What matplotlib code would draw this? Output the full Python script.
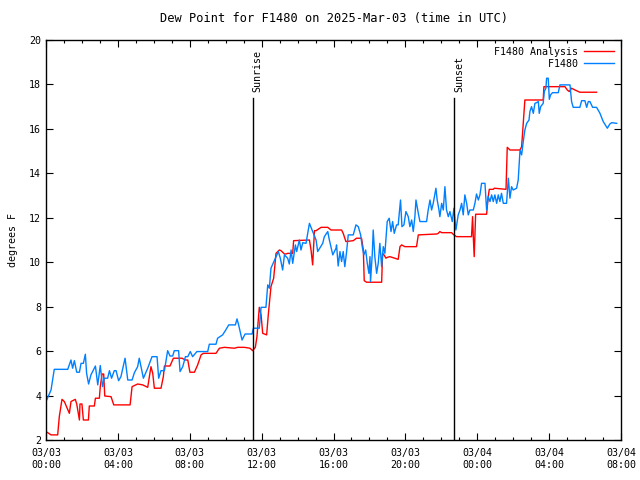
import numpy as np
import pandas as pd
import matplotlib
matplotlib.use('Agg')
from matplotlib import pyplot as plt
import matplotlib.dates as mdates
from matplotlib.ticker import MultipleLocator

# hours since 2025-03-03 00:00 UTC, dew point in degrees F
obs_hours = [0, 0.28, 0.46, 1.21, 1.39, 1.48, 1.58, 1.71, 1.86, 1.95, 2.08, 2.19, 2.26, 2.37, 2.50,
             2.75, 2.88, 3.02, 3.15, 3.25, 3.43, 3.53, 3.65, 3.80, 3.90, 4.04, 4.17, 4.40, 4.55, 4.79,
             4.92, 5.10, 5.19, 5.42, 5.66, 5.90, 6.18, 6.27, 6.40, 6.59, 6.77, 6.90, 7.05, 7.14, 7.38,
             7.46, 7.61, 7.76, 7.89, 8.03, 8.16, 8.40, 9.00, 9.09, 9.46, 9.55, 9.83, 9.98, 10.17, 10.54,
             10.63, 10.72, 10.91, 11.08, 11.47, 11.54, 11.87, 11.97, 12.24, 12.34, 12.43, 12.52, 12.80,
             12.93, 13.04, 13.17, 13.27, 13.45, 13.54, 13.64, 13.73, 13.88, 13.95, 14.10, 14.19, 14.29,
             14.47, 14.66, 14.84, 15.03, 15.12, 15.40, 15.49, 15.68, 15.77, 15.96, 16.14,
             16.17, 16.26, 16.36, 16.45, 16.54, 16.63, 16.73, 16.82, 17.10, 17.25, 17.38, 17.51, 17.60,
             17.69, 17.79, 17.88, 17.97, 18.03, 18.06, 18.16, 18.21, 18.30, 18.40, 18.49, 18.58, 18.68,
             18.77, 18.86, 18.99, 19.10, 19.20, 19.29, 19.38, 19.51, 19.60, 19.73, 19.81, 19.92, 20.03,
             20.16, 20.25, 20.35, 20.44, 20.53, 20.59, 20.72, 20.81, 21.18, 21.27, 21.37, 21.46, 21.55,
             21.70, 21.77, 21.87, 21.92, 22.02, 22.11, 22.20, 22.29, 22.39, 22.48, 22.61, 22.70, 22.81,
             22.94, 23.04, 23.13, 23.22, 23.31, 23.41, 23.50, 23.59, 23.78, 23.87, 23.96, 24.06, 24.15,
             24.24, 24.43, 24.52, 24.61, 24.71, 24.80, 24.89, 24.98, 25.08, 25.17, 25.26, 25.35, 25.45,
             25.63, 25.73, 25.82, 25.91, 26.00, 26.19, 26.28, 26.38, 26.47, 26.56, 26.65, 26.75, 26.88,
             26.93, 27.02, 27.12, 27.21, 27.30, 27.40, 27.45, 27.53, 27.67, 27.73, 27.82, 27.86, 27.95,
             28.01, 28.08, 28.19, 28.51, 28.60, 29.16, 29.25, 29.34, 29.71, 29.81, 29.99, 30.09, 30.18,
             30.27, 30.42, 30.64, 30.83, 31.01, 31.24, 31.38, 31.48, 31.76]
obs_dewpt = [3.73, 4.25, 5.18, 5.18, 5.60, 5.23, 5.57, 5.05, 5.05, 5.45, 5.45, 5.86, 5.00, 4.52, 4.93,
             5.33, 4.48, 5.35, 4.40, 4.78, 4.78, 5.12, 4.78, 5.12, 5.12, 4.67, 4.85, 5.68, 4.70, 4.70,
             5.03, 5.30, 5.68, 4.78, 5.23, 5.75, 5.75, 4.78, 5.12, 5.12, 6.02, 5.78, 5.78, 6.02, 6.02,
             5.08, 5.30, 5.75, 5.75, 5.98, 5.75, 5.98, 5.98, 6.31, 6.31, 6.58, 6.73, 6.92, 7.18, 7.18,
             7.45, 7.18, 6.50, 6.77, 6.77, 7.03, 7.03, 7.97, 7.97, 8.98, 8.83, 9.73, 10.25,
             10.48, 10.18, 9.65, 10.33, 10.18, 9.92, 10.55, 9.95, 10.78, 10.48, 11.00, 10.55, 10.88,
             10.85, 11.75, 11.38, 11.00, 10.48, 10.85, 11.15, 11.38, 11.00, 10.33, 10.63,
             10.78, 9.83, 10.48, 10.03, 10.48, 9.80, 10.48, 11.23, 11.23, 11.68, 11.60, 11.23, 10.70,
             10.33, 10.55, 9.95, 9.50, 10.25, 9.13, 10.40, 11.45, 10.25, 9.50, 9.95, 10.85, 9.80,
             10.70, 10.40, 11.83, 11.98, 11.38, 11.83, 11.30, 11.68, 11.68, 12.80, 11.60, 11.68, 12.28,
             12.05, 11.60, 11.90, 11.38, 12.05, 12.80, 12.20, 11.83, 11.83, 12.35, 12.80, 12.35, 12.65,
             13.33, 12.80, 12.35, 12.05, 12.65, 12.35, 13.40, 12.35, 12.05, 12.28, 11.83, 12.43, 11.45,
             12.13, 12.35, 12.65, 12.13, 13.03, 12.65, 12.13, 12.35, 12.35, 12.65, 13.07, 12.80, 13.03,
             13.55, 13.55, 12.35, 12.95, 12.73, 13.03, 12.73, 13.03, 12.65, 13.03, 12.73, 13.10, 12.65,
             12.65, 13.78, 12.88, 13.40, 13.25, 13.33, 13.70, 15.05, 14.83, 15.43, 15.95, 16.25, 16.40,
             16.78, 17.00, 16.70, 17.15, 17.18, 17.23, 16.70, 17.00, 17.15, 17.68, 17.83, 18.28, 18.28,
             17.33, 17.53, 17.63, 17.63, 17.98, 17.98, 17.23, 16.97, 16.97, 17.27, 17.27, 16.97, 17.23,
             17.23, 16.97, 16.97, 16.70, 16.33, 16.03, 16.22, 16.28, 16.25]

ana_hours = [0, 0.28, 0.65, 0.74, 0.89, 1.02, 1.30, 1.39, 1.63, 1.71, 1.86, 1.89, 2.00, 2.08, 2.36,
             2.41, 2.69, 2.75, 2.97, 3.02, 3.12, 3.21, 3.27, 3.62, 3.77, 4.68, 4.79, 5.10, 5.38, 5.66,
             5.84, 5.94, 6.03, 6.40, 6.53, 6.59, 6.90, 7.09, 7.57, 7.76, 7.89, 8.01, 8.26, 8.44, 8.63,
             8.76, 9.46, 9.65, 9.93, 10.48, 10.67, 11.04, 11.35, 11.50, 11.65, 11.74, 11.87, 11.97,
             12.06, 12.15, 12.28, 12.37, 12.52, 12.67, 12.80, 12.99, 13.08, 13.27, 13.36, 13.45, 13.73,
             13.78, 14.66, 14.75, 14.84, 14.94, 15.03, 15.31, 15.68, 15.86, 16.14,
             16.45, 16.54, 16.69, 17.10, 17.28, 17.56, 17.66, 17.71, 17.84, 18.68, 18.73, 18.81, 18.92,
             18.99, 19.14, 19.60, 19.70, 19.79, 19.97, 20.62, 20.72, 21.74, 21.83, 21.92, 22.02, 22.57,
             22.70, 22.85, 23.68, 23.74, 23.78, 23.83, 23.91, 24.52, 24.61, 24.67, 24.89, 24.95, 25.60,
             25.67, 25.82, 26.38, 26.47, 26.56, 26.65, 27.67, 27.71, 28.88, 29.01, 29.12, 29.25, 29.44,
             29.71, 30.64]
ana_dewpt = [2.38, 2.23, 2.23, 3.05, 3.83, 3.73, 3.20, 3.73, 3.83, 3.62, 2.90, 3.62, 3.62, 2.90, 2.90,
             3.53, 3.53, 3.88, 3.88, 4.40, 4.97, 4.97, 3.98, 3.95, 3.58, 3.58, 4.40, 4.52, 4.48, 4.37,
             5.30, 5.00, 4.33, 4.33, 4.85, 5.33, 5.33, 5.68, 5.68, 5.60, 5.60, 5.05, 5.05, 5.38, 5.83,
             5.90, 5.90, 6.13, 6.17, 6.13, 6.17, 6.17, 6.13, 6.02, 6.17, 6.65, 7.97, 7.63,
             6.80, 6.77, 6.73, 7.63, 8.90, 9.28, 10.40, 10.55, 10.52, 10.37, 10.37, 10.40, 10.40,
             10.97, 11.00, 10.55, 9.88, 11.42, 11.42, 11.57, 11.57, 11.45, 11.45,
             11.45, 11.30, 10.93, 10.97, 11.08, 11.08, 10.55, 9.17, 9.10, 9.10, 10.40, 10.33, 10.18,
             10.22, 10.25, 10.13, 10.70, 10.78, 10.70, 10.70, 11.23, 11.27, 11.30, 11.38, 11.33, 11.33,
             11.23, 11.15, 11.15, 12.05, 11.15, 10.25, 12.16, 12.16, 12.95, 13.28, 13.28, 13.33, 13.28,
             15.17, 15.05, 15.05, 15.20, 16.25, 17.30, 17.30, 17.90, 17.90, 17.75, 17.68, 17.83, 17.75,
             17.65, 17.65]

sun_hours = [11.50, 22.72]
sun_labels = ['Sunrise', 'Sunset']

start = pd.Timestamp('2025-03-03 00:00')
to_time = lambda h: start + pd.to_timedelta(np.array(h), unit='h')

plt.rcParams['font.family'] = ['DejaVu Sans Mono']
plt.rcParams['font.size'] = 7.2

fig = plt.figure(figsize=(6.4, 4.8), dpi=100)
ax = fig.add_axes([46/640, 40/480, 575/640, 400/480])

ax.plot(to_time(ana_hours), ana_dewpt, color='#ff0000', lw=1.0, label='F1480 Analysis')
ax.plot(to_time(obs_hours), obs_dewpt, color='#0080ff', lw=1.0, label='         F1480')

for h, lab in zip(sun_hours, sun_labels):
    t = to_time([h])[0]
    ax.plot([t, t], [0, 0.855], color='black', lw=1.0, transform=ax.get_xaxis_transform())
    ax.text(t, 0.87, lab, rotation=90, ha='left', va='bottom', transform=ax.get_xaxis_transform())

ax.set_xlim(start, start + pd.Timedelta(hours=32))
ax.set_ylim(2, 20)
ax.xaxis.set_major_locator(mdates.HourLocator(byhour=range(0, 24, 4)))
ax.xaxis.set_minor_locator(mdates.HourLocator())
ax.xaxis.set_major_formatter(mdates.DateFormatter('%m/%d\n%H:%M'))
ax.yaxis.set_major_locator(MultipleLocator(2))
ax.tick_params(which='both', direction='in', top=True, right=True, width=0.8)
ax.tick_params(which='major', length=5)
ax.tick_params(which='minor', length=2.5)
ax.tick_params(axis='x', pad=6)
for s in ax.spines.values():
    s.set_linewidth(1.0)

ax.set_title('Dew Point for F1480 on 2025-Mar-03 (time in UTC)', pad=13)
ax.set_ylabel('degrees F', labelpad=8)
ax.legend(loc='upper right', frameon=False, markerfirst=False, handlelength=3.0,
          handletextpad=0.6, labelspacing=0.2, borderaxespad=0.3)

fig.savefig('out.png', dpi=100)
